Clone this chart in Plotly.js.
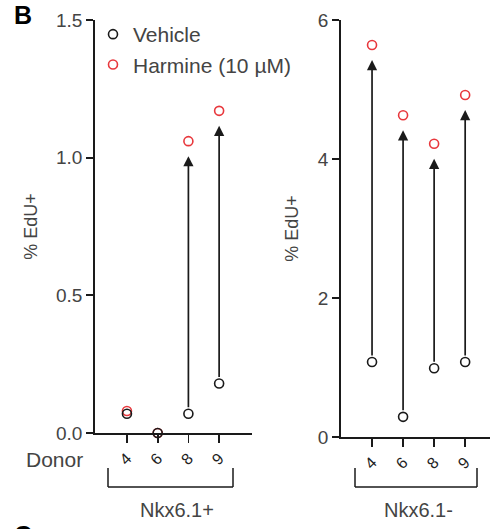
<!DOCTYPE html>
<html>
<head>
<meta charset="utf-8">
<script src="https://cdn.plot.ly/plotly-3.0.1.min.js"></script>
<style>html,body{margin:0;padding:0;background:#fff;}#chart{width:490px;height:529px;}</style>
</head>
<body>
<div id="chart"></div>
<script>
// ---- data ----
const donors = ['4', '6', '8', '9'];
const posVehicle = [0.07, 0.0, 0.07, 0.18];     // Nkx6.1+
const posHarmine = [0.08, 0.0, 1.06, 1.17];
const negVehicle = [1.08, 0.29, 0.99, 1.08];     // Nkx6.1-
const negHarmine = [5.64, 4.63, 4.22, 4.92];
const posTicks = [0, 0.5, 1.0, 1.5];
const negTicks = [0, 2, 4, 6];

const W = 490, H = 529;
const px = v => v / W;
const py = v => 1 - v / H;
const FONT = 'Liberation Sans, Arial, sans-serif';
const GREY = '#444';
const RED = '#e8383d';
const BLACK = '#1a1a1a';
const idx = donors.map((d, i) => i);

function mk(color) {
  return {symbol: 'circle-open', size: 9, color: color, line: {color: color, width: 1.6}};
}

const traces = [
  {x: idx, y: posHarmine, xaxis: 'x', yaxis: 'y', mode: 'markers', name: 'Harmine (10 \u00b5M)',
   marker: mk(RED), legendrank: 2, cliponaxis: false},
  {x: idx, y: posVehicle, xaxis: 'x', yaxis: 'y', mode: 'markers', name: 'Vehicle',
   marker: mk(BLACK), legendrank: 1, cliponaxis: false},
  {x: idx, y: negHarmine, xaxis: 'x2', yaxis: 'y2', mode: 'markers', name: 'Harmine (10 \u00b5M)',
   marker: mk(RED), showlegend: false, cliponaxis: false},
  {x: idx, y: negVehicle, xaxis: 'x2', yaxis: 'y2', mode: 'markers', name: 'Vehicle',
   marker: mk(BLACK), showlegend: false, cliponaxis: false}
];

function arrows(veh, harm, xr, yr, span) {
  const out = [];
  veh.forEach((v, i) => {
    if ((harm[i] - v) / span < 0.05) return;
    out.push({x: i, y: harm[i], ax: i, ay: v, xref: xr, yref: yr, axref: xr, ayref: yr,
      text: '', showarrow: true, arrowhead: 2, arrowsize: 1.2, arrowwidth: 1.7,
      arrowcolor: BLACK, standoff: 15, startstandoff: 5});
  });
  return out;
}

function xaxisCfg(domain, range) {
  return {domain: domain, range: range, tickvals: idx, ticktext: donors, tickangle: -45,
    showgrid: false, zeroline: false, showline: true, linecolor: BLACK, linewidth: 1.8,
    ticks: 'outside', ticklen: 8, tickwidth: 1.8, tickcolor: BLACK,
    tickfont: {family: FONT, size: 16, color: '#222'}, fixedrange: true};
}
function yaxisCfg(domain, range, ticks, fmt, anchor) {
  return {domain: domain, range: range, tickvals: ticks, tickformat: fmt, anchor: anchor,
    showgrid: false, zeroline: false, showline: true, linecolor: BLACK, linewidth: 1.8,
    ticks: 'outside', ticklen: 7, tickwidth: 1.8, tickcolor: BLACK,
    tickfont: {family: FONT, size: 19, color: GREY},
    title: {text: '% EdU+', font: {family: FONT, size: 18, color: GREY}, standoff: 14},
    fixedrange: true};
}

const bracket = (x0, x1) => [
  {type: 'line', xref: 'paper', yref: 'paper', x0: px(x0), x1: px(x0), y0: py(468), y1: py(487), line: {color: BLACK, width: 1.5}},
  {type: 'line', xref: 'paper', yref: 'paper', x0: px(x0), x1: px(x1), y0: py(487), y1: py(487), line: {color: BLACK, width: 1.5}},
  {type: 'line', xref: 'paper', yref: 'paper', x0: px(x1), x1: px(x1), y0: py(468), y1: py(487), line: {color: BLACK, width: 1.5}}
];

const textAnn = (t, x, y, size, color) => ({text: t, x: px(x), y: py(y), xref: 'paper', yref: 'paper',
  xanchor: 'center', yanchor: 'middle', showarrow: false,
  font: {family: FONT, size: size, color: color || GREY}});

const layout = {
  width: W, height: H,
  margin: {l: 0, r: 0, t: 0, b: 0},
  paper_bgcolor: '#fff', plot_bgcolor: 'rgba(0,0,0,0)',
  showlegend: true,
  legend: {x: px(93), y: py(14), xanchor: 'left', yanchor: 'top', bgcolor: 'rgba(0,0,0,0)',
    font: {family: FONT, size: 21, color: GREY}, itemclick: false},
  xaxis: xaxisCfg([px(95), px(252)], [-1.04, 4.07]),
  yaxis: yaxisCfg([py(433), py(20)], [0, 1.5], posTicks, '.1f', 'x'),
  xaxis2: Object.assign(xaxisCfg([px(341), px(490)], [-1, 3.8]), {anchor: 'y2'}),
  yaxis2: yaxisCfg([py(437), py(20)], [0, 6], negTicks, 'd', 'x2'),
  shapes: [].concat(bracket(108, 233), bracket(355, 477)),
  annotations: [].concat(
    arrows(posVehicle, posHarmine, 'x', 'y', 1.5),
    arrows(negVehicle, negHarmine, 'x2', 'y2', 6),
    [
      textAnn('Donor', 54, 459, 21),
      textAnn('Nkx6.1+', 177, 510, 20),
      textAnn('Nkx6.1-', 418, 510, 20),
      textAnn('<b>B</b>', 23, 15, 25, '#000'),
      textAnn('<b>C</b>', 23, 535, 25, '#000')
    ]
  )
};
layout.xaxis.anchor = 'y';

Plotly.newPlot('chart', traces, layout, {displayModeBar: false, staticPlot: true});
</script>
</body>
</html>
